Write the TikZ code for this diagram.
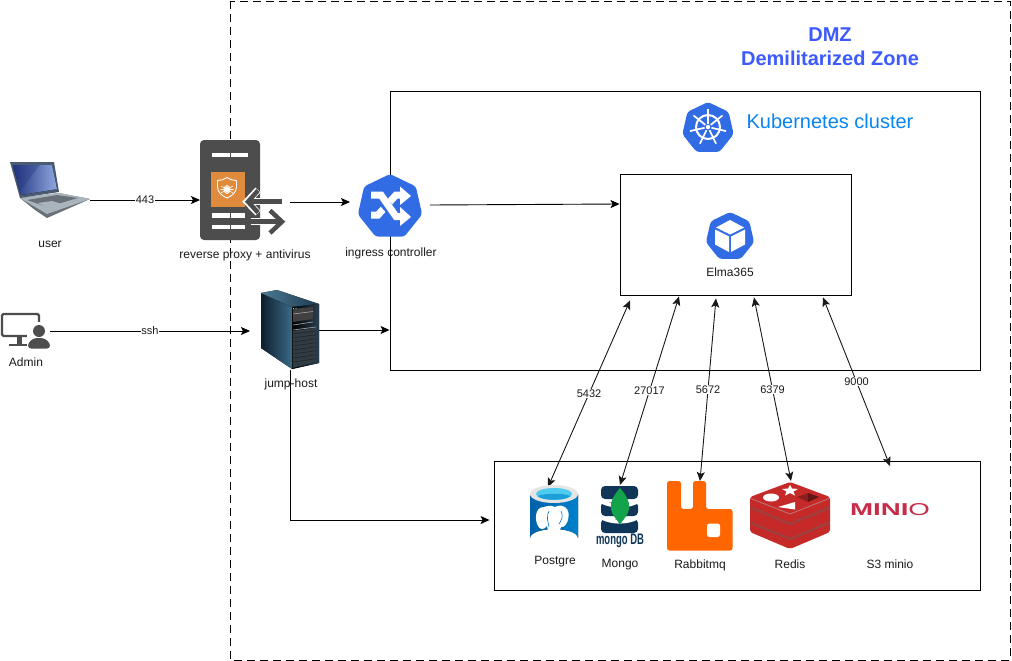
\documentclass[tikz,border=0pt]{standalone}
\usepackage{fontspec}
\setmainfont{Liberation Sans}
\usetikzlibrary{arrows.meta,calc}
\definecolor{k8sblue}{HTML}{326CE5}
\definecolor{txt}{HTML}{1A1A1A}
\definecolor{proxygray}{HTML}{4D4D4D}
\definecolor{awsorange}{HTML}{E08A3C}
\definecolor{dmzblue}{HTML}{3D5AFE}
\definecolor{clusterblue}{HTML}{0A84F0}
\definecolor{mongonavy}{HTML}{0F3558}
\definecolor{mongogreen}{HTML}{13A34B}
\definecolor{rabbit}{HTML}{FF6600}
\definecolor{redisred}{HTML}{C62A28}
\definecolor{redisdark}{HTML}{8E1E1C}
\definecolor{miniored}{HTML}{C72C48}
\definecolor{pgblue}{HTML}{0072C6}
\definecolor{jumpa}{HTML}{0E1E2C}
\definecolor{jumpb}{HTML}{3B6A88}
\definecolor{jumpc}{HTML}{4D7A94}
\definecolor{jumpd}{HTML}{1C3B50}
\definecolor{jumpe}{HTML}{2A4050}
\definecolor{jumpf}{HTML}{303C44}
\definecolor{lapframe}{HTML}{4A5A70}
\definecolor{lapscreena}{HTML}{23357F}
\definecolor{lapscreenb}{HTML}{8FA8E0}
\definecolor{lapbase}{HTML}{AAB4BC}
\definecolor{lapkeys}{HTML}{6A7078}
\definecolor{pgcyan}{HTML}{4FCBEF}
\definecolor{pgcyand}{HTML}{1C9FD8}
\tikzset{
  box/.style={draw=black,line width=0.9pt,fill=white,inner sep=0pt},
  iconbox/.style={inner sep=0pt,outer sep=0pt},
  lbl/.style={font=\fontsize{12}{13}\selectfont,text=txt,inner sep=0pt},
  edgelbl/.style={font=\fontsize{11}{12}\selectfont,text=txt,fill=white,inner sep=0.8pt},
  arr/.style={draw=black,line width=0.9pt,-{Stealth[length=9pt,width=8pt,inset=2pt]}},
  dbl/.style={draw=black!90,line width=0.9pt,{Stealth[length=9pt,width=8pt,inset=2pt]}-{Stealth[length=9pt,width=8pt,inset=2pt]}},
}
\newcommand{\heptagon}[4]{\fill[#4,rounded corners=3pt,shift={(#1,#2)}]
  (-90:#3)--(-38.57:#3)--(12.86:#3)--(64.29:#3)--(115.71:#3)--(167.14:#3)--(218.57:#3)--cycle;}
\begin{document}
\begin{tikzpicture}[x=1pt,y=-1pt]
\useasboundingbox (0,0) rectangle (1012,661);
\fill[white] (0,0) rectangle (1012,661);

% anchors for connectors
\node[iconbox,minimum width=80pt,minimum height=40pt] (laptop) at (50,200) {};
\node[iconbox,minimum width=90pt,minimum height=80pt] (proxy) at (245,200) {};
\node[iconbox,minimum width=50pt,minimum height=40pt] (admin) at (25,331) {};
\node[iconbox,minimum width=58pt,minimum height=80pt] (jump) at (290,330) {};

% DMZ zone
\draw[black,line width=0.9pt,dash pattern=on 8pt off 5pt] (230,1) rectangle (1010,660);
\node[font=\bfseries\fontsize{20}{22}\selectfont,text=dmzblue,inner sep=0pt] (dmz1) at (830,35) {DMZ};
\node[font=\bfseries\fontsize{20}{22}\selectfont,text=dmzblue,inner sep=0pt] (dmz2) at (830,58) {Demilitarized Zone};

% proxy icon
\fill[proxygray,rounded corners=4pt] (200,140) rectangle (260,240);
\fill[white] (212,153) rectangle (229.5,157);
\fill[white] (230.5,153) rectangle (248,157);
\fill[white] (212,213) rectangle (229.5,218);
\fill[white] (230.5,213) rectangle (245,218);
\fill[white] (212,225) rectangle (229.5,229);
\fill[white] (230.5,225) rectangle (245,229);
\fill[awsorange] (211,172) rectangle (245,207);
\draw[white,line width=0.9pt,line join=round] (227,177.5) .. controls (223,180) and (220,180.5) .. (217.5,180.5)
  -- (217.5,187) .. controls (217.5,192) and (222,196) .. (227,198) .. controls (232,196) and (236.5,192) .. (236.5,187)
  -- (236.5,180.5) .. controls (234,180.5) and (231,180) .. (227,177.5) -- cycle;
\draw[white,line width=0.8pt] (227,189.5) ellipse (3 and 4);
\draw[white,line width=0.6pt] (221,186)--(233,193) (221,193)--(233,186) (220.5,189.5)--(233.5,189.5);
\fill[white] (227,189.5) ellipse (2.2 and 3.2);
\draw[white,line width=7pt,line join=miter] (258,190)--(247,201.7)--(258,213);
\draw[white,line width=7pt] (247,201.7)--(262,201.7);
\draw[white,line width=7pt,line join=miter] (270,210)--(282,221.7)--(270,233);
\draw[white,line width=7pt] (251,221.7)--(282,221.7);
\draw[proxygray,line width=4.5pt,line join=miter] (258,190.5)--(248,201.7)--(258,212.5);
\draw[proxygray,line width=4.5pt] (249,201.7)--(282,201.7);
\draw[proxygray,line width=4.5pt,line join=miter] (270,210.5)--(282,221.7)--(270,233);
\draw[proxygray,line width=4.5pt] (251,221.7)--(281,221.7);

% containers
\node[box,minimum width=590pt,minimum height=279pt] (k8s) at (685,230.5) {};
\node[box,minimum width=231pt,minimum height=121pt] (elma) at (735.5,234.5) {};
\node[box,minimum width=486pt,minimum height=129pt] (db) at (737,525.5) {};
\node[font=\fontsize{20}{22}\selectfont,text=clusterblue,inner sep=0pt] (k8stext) at (830,121) {Kubernetes cluster};

% icon placeholders
\node[iconbox,minimum width=80pt,minimum height=64pt] (ingress) at (390,205) {};
\node[iconbox,minimum width=48pt,minimum height=62pt] (postgre) at (554,516) {};
\node[iconbox,minimum width=37pt,minimum height=62pt] (mongo) at (620,516) {};
\node[iconbox,minimum width=65pt,minimum height=69pt] (rabbitq) at (700,515.5) {};
\node[iconbox,minimum width=80pt,minimum height=67pt] (redis) at (790,515.5) {};
\node[iconbox,minimum width=80pt,minimum height=88pt] (minio) at (890,510) {};

% connectors
\draw[arr] (laptop.east) -- node[edgelbl] (l443) {443} (proxy.west);
\draw[arr] ([shift={(0,2)}]proxy.east) -- ([shift={(-80,-3)}]ingress.east);
\draw[arr] (ingress.east) -- ([shift={(0,-30.5)}]elma.west);
\draw[arr] (admin.east) -- node[edgelbl] (lssh) {ssh} ([shift={(-11,1)}]jump.west);
\draw[arr] (jump.east) -- ([shift={(0,99.5)}]k8s.west);
\draw[arr] (jump.south) |- ([shift={(-4,-5.5)}]db.west);
\draw[dbl] ([shift={(-105.5,5)}]elma.south) -- node[edgelbl] (l1) {5432} ([shift={(-6,2)}]postgre.north);
\draw[dbl] ([shift={(-56.5,1)}]elma.south) -- node[edgelbl] (l2) {27017} (mongo.north);
\draw[dbl] ([shift={(-19.5,3)}]elma.south) -- node[edgelbl] (l3) {5672} (rabbitq.north);
\draw[dbl] ([shift={(18.5,2)}]elma.south) -- node[edgelbl] (l4) {6379} ([shift={(1,-1)}]redis.north);
\draw[dbl] ([shift={(87.5,2)}]elma.south) -- node[edgelbl] (l5) {9000} (minio.north);

% laptop
\fill[lapkeys] (20,198)--(59,193)--(90,199)--(47,218)--(35,210)--cycle;
\fill[lapbase] (20,198)--(59,193)--(90,199)--(47,214)--cycle;
\fill[lapkeys] (27,200)--(57,195)--(78,198)--(47,207)--cycle;
\fill[lapbase] (38,203)--(52,201)--(62,204)--(48,208)--cycle;
\fill[lapframe] (10,162)--(54,162)--(59,192)--(20,198)--cycle;
\fill[left color=lapscreena,right color=lapscreenb] (13,165)--(52,165)--(57,189)--(21,195)--cycle;
\fill[lapscreena,opacity=0.35] (13,165)--(40,165)--(21,190)--cycle;

% admin icon
\draw[proxygray,line width=2.4pt,rounded corners=1.5pt] (2,314) rectangle (39,336);
\fill[proxygray] (17,337) rectangle (22,344);
\fill[proxygray] (9,343.5) rectangle (28,346);
\fill[white] (27,322) rectangle (49.5,350);
\fill[proxygray] (39,331) circle (6);
\fill[proxygray,rounded corners=3pt] (28,348.5)--(28,343)--(34,338)--(44,338)--(50,343)--(50,348.5)--cycle;

% jump host
\fill[left color=jumpa,right color=jumpb] (261,293)--(292,307)--(292,369)--(261,348)--cycle;
\fill[left color=jumpc,right color=jumpd] (261,293)--(277,290)--(319,304)--(292,307)--cycle;
\fill[left color=black,right color=jumpe] (292,307)--(319,304)--(319,363)--(292,369)--cycle;
\fill[black!75] (293,309)--(313,307)--(313,319)--(293,322)--cycle;
\fill[cyan!60] (293.5,308.5) circle (0.7) (296,308.3) circle (0.7);
\draw[black!35,line width=0.6pt] (293,314)--(313,311.5) (293,325)--(313,322) (293,330)--(316,327);
\fill[jumpf] (292.5,331)--(316,328)--(316,362)--(292.5,368)--cycle;
\foreach \yy in {334,338,342,346,350,354,358,362}{\draw[black!85,line width=0.7pt] (292.5,\yy)--(316,\yy-3.2);}

% ingress
\heptagon{390}{207}{33}{k8sblue}
\begin{scope}
\draw[white,line width=7pt] (371,215)--(378,215)--(396,195)--(402,195);
\fill[white] (400,186.5)--(411,196)--(400,205)--cycle;
\draw[k8sblue,line width=10pt] (373,196)--(378,196)--(396,216);
\draw[white,line width=7pt] (371,195)--(381,195)--(396,216.5)--(402,216.5);
\fill[white] (400,207)--(411,217)--(400,226)--cycle;
\end{scope}

% kubernetes logo
\heptagon{708}{128.3}{26.3}{k8sblue}
\draw[white,line width=2pt] (708,127) circle (12);
\foreach \aa in {-90,-38.57,12.86,64.29,115.71,167.14,218.57}{
  \draw[white,line width=1.7pt] (708,127)++(\aa:3.5)--++(\aa:15);
}
\fill[white] (708,127) circle (2.2);

% Elma icon
\heptagon{730}{236.7}{24.7}{k8sblue}
\fill[white] (730,220)--(744,227.5)--(730,234.5)--(716,227.5)--cycle;
\fill[white] (715,229.5)--(729,236.5)--(729,252)--(715,244.5)--cycle;
\fill[white] (745,229.5)--(731,236.5)--(731,252)--(745,244.5)--cycle;

% postgre
\fill[left color=pgblue!85!black,right color=pgblue!90!cyan] (530,494) -- (530,538) arc[start angle=180,end angle=360,x radius=24,y radius=9] -- (578,494) -- cycle;
\fill[black!10] (554,494) ellipse (24 and 9);
\fill[pgcyan] (554,494) ellipse (18 and 6);
\fill[pgcyand] (537.5,496) .. controls (545,493) and (563,493) .. (570.5,496) .. controls (565,501) and (543,501) .. (537.5,496) -- cycle;
\fill[white] (544,507) .. controls (534,507) and (535,521) .. (538,526) .. controls (540,530) and (544,530) .. (547,526)
  .. controls (548,532) and (551,541) .. (557,542) .. controls (559,538) and (559,531) .. (561,527)
  .. controls (567,528) and (570,516) .. (568,511) .. controls (565,504) and (558,505) .. (555,507)
  .. controls (551,505) and (547,506) .. (544,507) -- cycle;
\draw[pgblue,line width=0.6pt] (549,511) .. controls (546,516) and (548,522) .. (549,527);
\draw[pgblue,line width=0.6pt] (561,511) .. controls (564,516) and (561,521) .. (559,524);

% mongo
\fill[mongonavy,rounded corners=4pt] (601,486) rectangle (638,499);
\fill[mongonavy,rounded corners=4pt] (601,502) rectangle (638,516);
\fill[mongonavy,rounded corners=4pt] (601,519) rectangle (638,533);
\fill[white] (601,499) .. controls (612,505) and (627,505) .. (638,499) -- (638,503.5) .. controls (627,509) and (612,509) .. (601,503.5) -- cycle;
\fill[white] (601,515) .. controls (612,521) and (627,521) .. (638,515) -- (638,519.5) .. controls (627,525) and (612,525) .. (601,519.5) -- cycle;
\fill[mongogreen] (620,488) .. controls (613,496) and (610,503) .. (611,509) .. controls (612,516) and (617,519) .. (619.5,524)
  -- (620.5,524) .. controls (623,519) and (628,516) .. (629,509) .. controls (630,503) and (627,496) .. (620,488) -- cycle;
\node[font=\bfseries\fontsize{10.5}{11}\selectfont,text=mongonavy,inner sep=0pt] (mongotext) at (620,541) {\resizebox{48pt}{10.5pt}{mongo DB}};

% rabbit
\fill[rabbit,rounded corners=2.5pt] (667,481)--(681,481)--(681,509)--(693,509)--(693,481)--(706,481)--(706,509)--(732.5,509)--(732.5,550.5)--(667,550.5)--cycle;
\fill[white,rounded corners=2.5pt] (707,523.5) rectangle (720,537);

% redis
\fill[redisred,rounded corners=2pt] (750,497)--(790,482)--(830,497)--(830,532)--(790,549)--(750,532)--cycle;
\draw[redisdark!85,line width=2.4pt,line join=round] (750.5,507.5)--(790,524)--(829.5,507.5);
\draw[redisdark!85,line width=2.4pt,line join=round] (750.5,522.5)--(790,539)--(829.5,522.5);
\draw[redisdark!60,line width=0.8pt,line join=round] (751,498.5)--(790,514)--(829,498.5);
\fill[redisdark] (797,497)--(808,493)--(819,497)--(808,502)--cycle;
\fill[redisdark!70!black] (808,493)--(819,497)--(808,502)--cycle;
\fill[white] (771,497.5) ellipse (8 and 4);
\fill[white] (778,507)--(795,502)--(795,509.5)--cycle;
\fill[white] (790,485)--(792,488.5)--(798,489)--(793.5,491.5)--(795,495.5)--(790,493)--(785,495.5)--(786.5,491.5)--(782,489)--(788,488.5)--cycle;

% minio
\node[inner sep=0pt,text=miniored] (miniotext) at (890,510) {\resizebox{80pt}{12pt}{\bfseries MINI{\mdseries O}}};

% labels
\node[lbl] (tuser) at (50,244.5) {user};
\node[lbl] (tproxy) at (245,255) {reverse proxy + antivirus};
\node[lbl] (tingress) at (391,253) {ingress controller};
\node[lbl] (tadmin) at (26,362) {Admin};
\node[lbl] (tjump) at (291,384) {jump-host};
\node[lbl] (telma) at (730,272) {Elma365};
\node[lbl] (tpg) at (555,562) {Postgre};
\node[lbl] (tmongo) at (620,565) {Mongo};
\node[lbl] (trabbit) at (700,565) {Rabbitmq};
\node[lbl] (tredis) at (790,564) {Redis};
\node[lbl] (tminio) at (890,564) {S3 minio};
\end{tikzpicture}
\end{document}
